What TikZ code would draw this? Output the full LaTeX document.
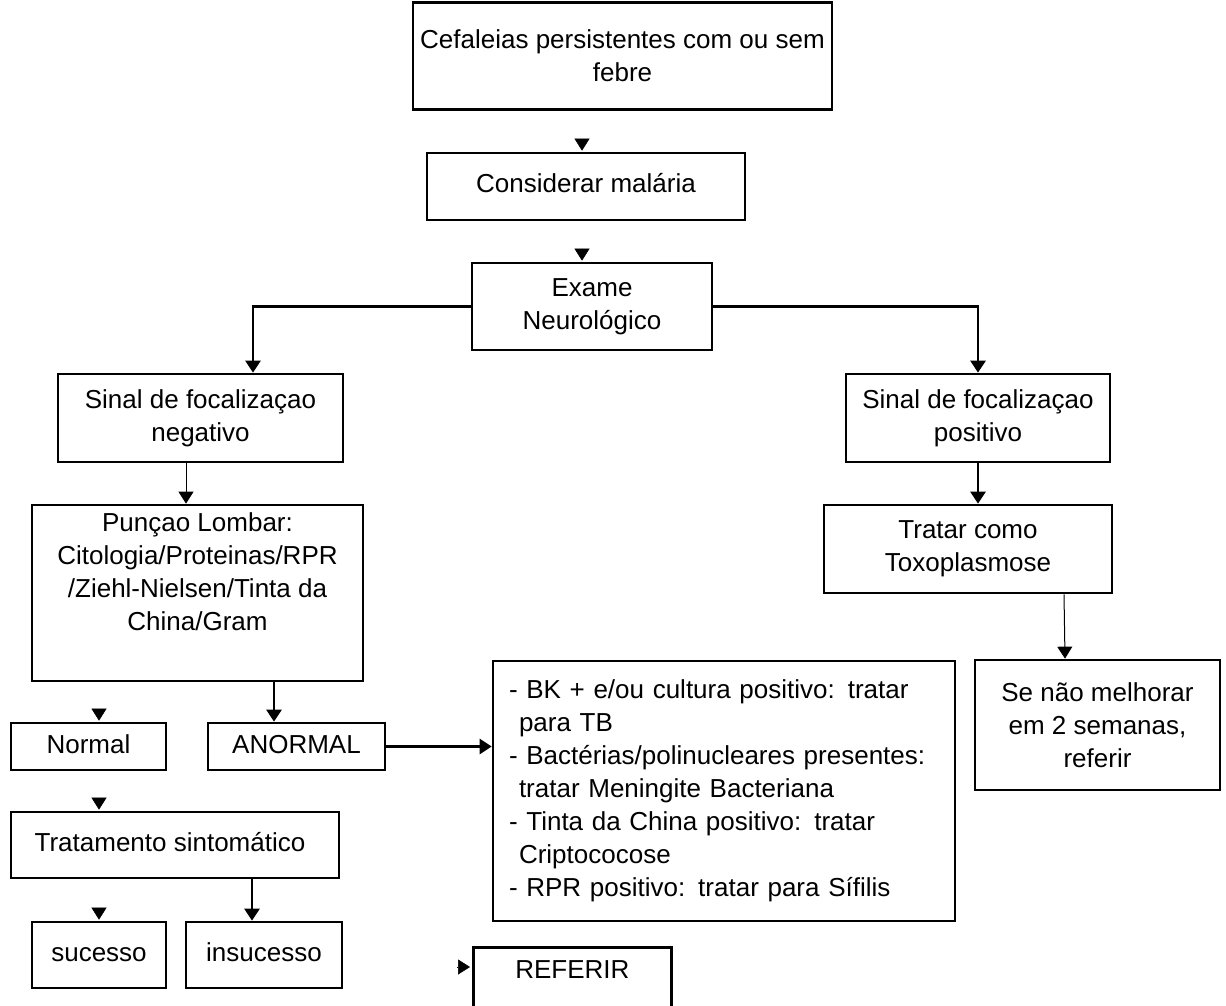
\documentclass[tikz,border=0pt]{standalone}
\usepackage{fontspec}
\setmainfont{Liberation Sans}
\usetikzlibrary{arrows.meta,calc}
\begin{document}
\begin{tikzpicture}[x=1pt,y=-1pt,
  bx/.style={draw,line width=2.7pt,inner sep=0pt,font=\fontsize{26}{33}\selectfont},
  one/.style={text height=19pt,text depth=6pt},
  arr/.style={line width=2.7pt,-{Triangle[width=15pt,length=12pt]}},
  thinarr/.style={line width=1pt,-{Triangle[width=15pt,length=12pt]}},
  tiponly/.style={line width=0.5pt,-{Triangle[width=15pt,length=12pt]}}]
\useasboundingbox (0,0) rectangle (1226,1006);
\fill[white] (0,0) rectangle (1226,1006);

\node[bx,minimum width=419pt,minimum height=107pt,align=center] (cef) at (622.5,56) {Cefaleias persistentes com ou sem\\febre};
\node[bx,one,minimum width=318pt,minimum height=67pt] (mal) at (586,186.5) {Considerar malária};
\node[bx,minimum width=240pt,minimum height=87pt,align=center] (exa) at (592,306.5) {Exame\\Neurológico};
\node[bx,minimum width=285pt,minimum height=88pt,align=center] (neg) at (200.5,418) {Sinal de focalizaçao\\negativo};
\node[bx,minimum width=264pt,minimum height=88pt,align=center] (pos) at (978,418) {Sinal de focalizaçao\\positivo};
\node[bx,minimum width=331pt,minimum height=176pt,align=center] (pun) at (197.5,593) {Punçao Lombar:\\Citologia/Proteinas/RPR\\/Ziehl-Nielsen/Tinta da\\China/Gram\\\strut};
\node[bx,minimum width=288pt,minimum height=88pt,align=center] (tox) at (968,549) {Tratar como\\Toxoplasmose};
\node[bx,one,minimum width=155pt,minimum height=47pt] (nor) at (88.5,746.5) {Normal};
\node[bx,one,minimum width=177pt,minimum height=47pt] (ano) at (296.5,746.5) {ANORMAL};
\node[bx,minimum width=462pt,minimum height=260pt,text width=430pt,align=left] (bk) at (724,791) {- BK + e/ou cultura positivo: tratar\\\hspace*{10pt}para TB\\- Bactérias/polinucleares presentes:\\\hspace*{10pt}tratar Meningite Bacteriana\\- Tinta da China positivo: tratar\\\hspace*{10pt}Criptococose\\- RPR positivo: tratar para Sífilis};
\node[bx,minimum width=245pt,minimum height=130pt,align=center] (sen) at (1097.5,725) {Se não melhorar\\em 2 semanas,\\referir};
\node[bx,one,minimum width=328pt,minimum height=66pt] (tra) at (175,845) {Tratamento sintomático\hspace*{10pt}};
\node[bx,one,minimum width=134pt,minimum height=66pt] (suc) at (99,955) {sucesso};
\node[bx,one,minimum width=156pt,minimum height=66pt] (ins) at (264,955) {insucesso};
\node[bx,minimum width=198pt,anchor=north west,text height=31pt,text depth=45pt] (ref) at (472,946) {REFERIR};

\draw[tiponly] ($(mal.north)+(-4,-13)$) -- ($(mal.north)+(-4,-1)$);
\draw[tiponly] ($(exa.north)+(-10,-13)$) -- ($(exa.north)+(-10,-1)$);
\draw[arr] (exa.west) -| ($(neg.north)+(52.5,0)$);
\draw[arr] (exa.east) -| (pos.north);
\draw[thinarr] ($(neg.south)+(-14.5,0)$) -- ($(pun.north)+(-11.5,0)$);
\draw[arr] (pos.south) -- (pos.south |- tox.north);
\draw[thinarr] ($(tox.south)+(96,0)$) -- ($(sen.north)+(-32.5,0)$);
\draw[arr] ($(pun.south)+(76.5,0)$) -- ($(ano.north)+(-22.5,0)$);
\draw[tiponly] ($(nor.north)+(10.5,-13)$) -- ($(nor.north)+(10.5,-1)$);
\draw[arr] (ano.east) -- (ano.east -| bk.west);
\draw[tiponly] ($(tra.north)+(-76,-13)$) -- ($(tra.north)+(-76,-1)$);
\draw[arr] ($(tra.south)+(77,0)$) -- ($(ins.north)+(-12,0)$);
\draw[tiponly] ($(suc.north)+(0,-13)$) -- ($(suc.north)+(0,-1)$);
\draw[tiponly] ($(ref.north west)+(-15,21)$) -- ($(ref.north west)+(-2,21)$);
\end{tikzpicture}
\end{document}
